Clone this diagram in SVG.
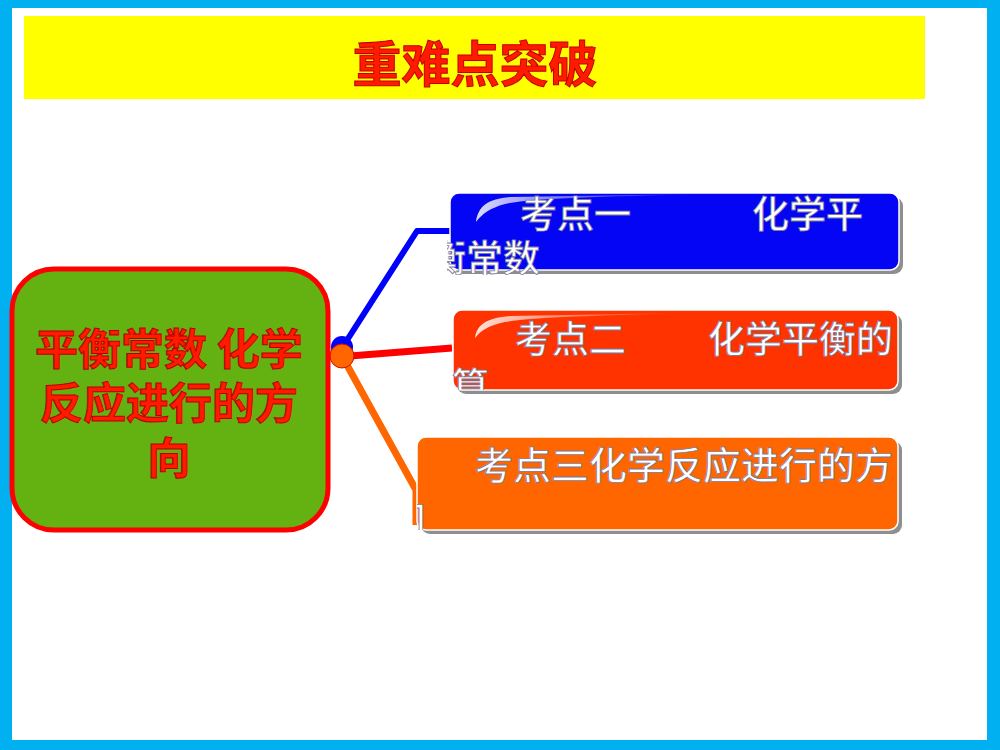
<svg xmlns="http://www.w3.org/2000/svg" width="1000" height="750" viewBox="0 0 1000 750">
<defs>
<style>
.cjk{font-family:"Noto Sans CJK SC","Noto Sans",sans-serif}
.title{font-size:49px;font-weight:bold;fill:#FF1A00;stroke:#C00000;stroke-width:1}
.main{font-size:43px;font-weight:bold;fill:#FF1A00;stroke:#B80000;stroke-width:1}
.lbl{font-size:37px;font-weight:500;fill:#FFFFFF;stroke:#7a7a9a;stroke-width:0.8}
.shadow{fill:#8E8E8E}
.box{stroke:#FFFFFF;stroke-width:1.5}
.conn{fill:none;stroke-linejoin:round}
</style>
<linearGradient id="gloss" x1="0" y1="0" x2="1" y2="0">
<stop offset="0" stop-color="#FFFFFF" stop-opacity="0.85"/>
<stop offset="0.4" stop-color="#FFFFFF" stop-opacity="0.45"/>
<stop offset="1" stop-color="#FFFFFF" stop-opacity="0"/>
</linearGradient>
<clipPath id="c1"><rect x="447" y="193" width="452" height="82"/></clipPath>
<clipPath id="c2"><rect x="451" y="310" width="448" height="80"/></clipPath>
<clipPath id="c3"><rect x="417" y="437" width="482" height="93"/></clipPath>
</defs>
<rect x="0" y="0" width="1000" height="750" fill="#00B0F0"/>
<rect x="12" y="8" width="975" height="732" fill="#FFFFFF"/>
<g id="title">
<rect x="24" y="16" width="901" height="83" fill="#FFFF00"/>
<text class="cjk title" x="475" y="82" text-anchor="middle">重难点突破</text>
</g>
<g id="connectors">
<path class="conn" d="M342,348 L417,231 L450,231" stroke="#0000FF" stroke-width="6"/>
<path class="conn" d="M350,356 L452,348" stroke="#FF0000" stroke-width="7"/>
<path class="conn" d="M342,356 L416,490 L416,525" stroke="#FF6600" stroke-width="7"/>
<circle cx="342" cy="347" r="11" fill="#0000FF"/>
<circle cx="342" cy="356" r="12" fill="#FF6600" stroke="#CC1100" stroke-width="1"/>
</g>
<g id="main">
<rect x="12" y="269" width="316" height="261" rx="42" fill="#64B112" stroke="#FF0000" stroke-width="5"/>
<text class="cjk main" text-anchor="middle"><tspan x="169" y="365">平衡常数 化学</tspan><tspan x="169" y="419">反应进行的方</tspan><tspan x="169" y="474">向</tspan></text>
</g>
<g id="node1">
<rect class="shadow" x="454" y="197" width="449" height="77" rx="9"/>
<rect class="box" x="450" y="193" width="449" height="77" rx="9" fill="#0505F5"/>
<path d="M476,222 C478,206 488,199 510,197 L700,194 C600,197 530,198 505,204 C490,208 482,214 476,222 Z" fill="url(#gloss)"/>
<g clip-path="url(#c1)">
<text class="cjk lbl" x="520" y="228">考点一</text>
<text class="cjk lbl" x="752" y="228">化学平</text>
<text class="cjk lbl" x="429" y="272">衡常数</text>
</g>
</g>
<g id="node2">
<rect class="shadow" x="457" y="314" width="445" height="80" rx="9"/>
<rect class="box" x="453" y="310" width="445" height="80" rx="9" fill="#FF3300"/>
<path d="M475,338 C477,324 487,318 510,316 L680,313 C600,316 530,317 505,322 C490,325 481,330 475,338 Z" fill="url(#gloss)"/>
<g clip-path="url(#c2)">
<text class="cjk lbl" x="515" y="353">考点二</text>
<text class="cjk lbl" x="708" y="353">化学平衡的</text>
<text class="cjk lbl" x="452" y="400">算</text>
</g>
</g>
<g id="node3">
<rect class="shadow" x="421" y="441" width="481" height="93" rx="9"/>
<rect class="box" x="417" y="437" width="481" height="93" rx="9" fill="#FF6600"/>
<g clip-path="url(#c3)">
<text class="cjk lbl" x="475" y="479" style="font-size:38px">考点三化学反应进行的方</text>
<text class="cjk lbl" x="388" y="530" style="font-size:38px">向</text>
</g>
</g>
</svg>
